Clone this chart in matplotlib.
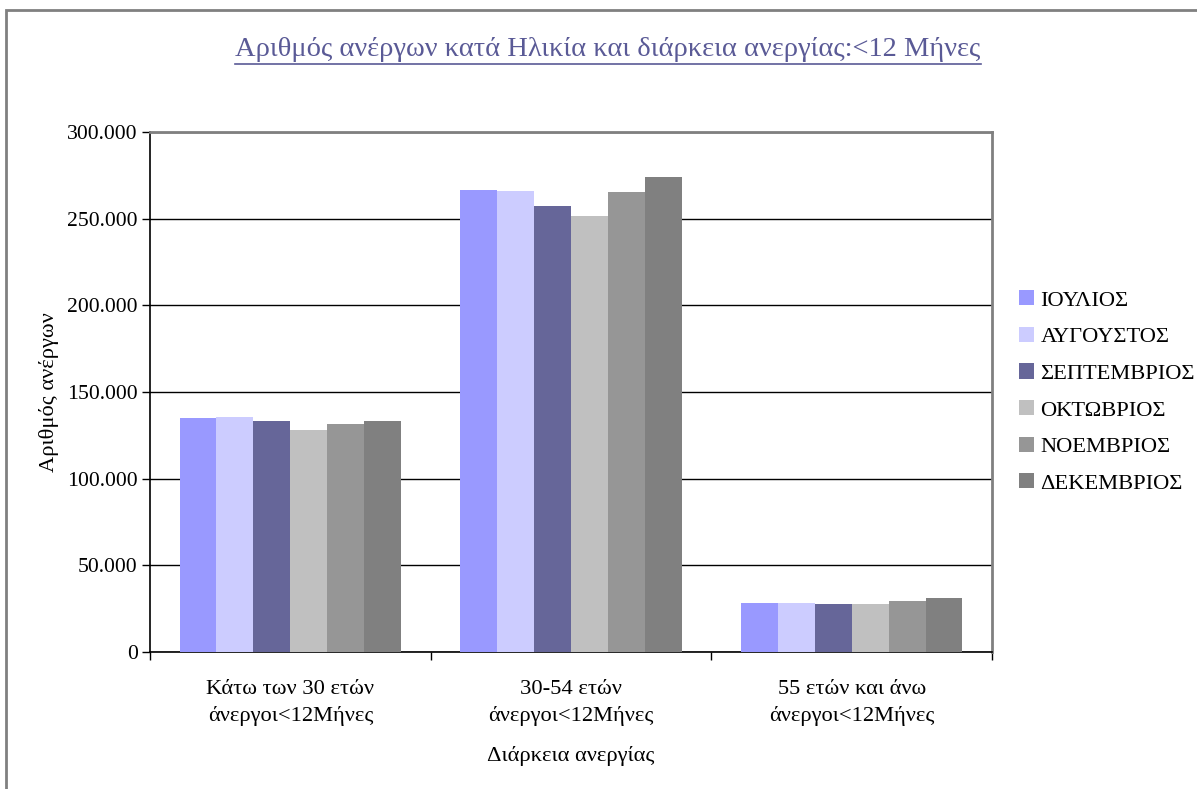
import numpy as np
import matplotlib.pyplot as plt
from matplotlib.ticker import FuncFormatter, FixedLocator
from matplotlib.patches import Rectangle

plt.rcParams['font.family'] = ['Liberation Serif', 'DejaVu Serif']

categories = ["Κάτω των 30 ετών\nάνεργοι<12Μήνες",
              "30-54 ετών\nάνεργοι<12Μήνες",
              "55 ετών και άνω\nάνεργοι<12Μήνες"]
months = ["ΙΟΥΛΙΟΣ", "ΑΥΓΟΥΣΤΟΣ", "ΣΕΠΤΕΜΒΡΙΟΣ", "ΟΚΤΩΒΡΙΟΣ", "ΝΟΕΜΒΡΙΟΣ", "ΔΕΚΕΜΒΡΙΟΣ"]
colors = ["#9999ff", "#ccccff", "#666699", "#c0c0c0", "#969696", "#808080"]

jul = [135200, 266500, 28500]
aug = [135800, 266000, 28500]
sep = [133000, 257300, 27900]
octo = [128300, 251500, 27900]
nov = [131700, 265400, 29600]
dec = [133000, 274000, 31300]
series = [jul, aug, sep, octo, nov, dec]

fs = 16.2

fig = plt.figure(figsize=(11.97, 7.89), dpi=100)
fig.patches.append(Rectangle((6 / 1197, -0.01), 1.1, 1 - 10 / 789 + 0.01, transform=fig.transFigure,
                             fill=False, edgecolor="#808080", linewidth=2))
ax = fig.add_axes([150 / 1197, 1 - 652 / 789, 842 / 1197, 520 / 789])

pos = np.arange(len(categories))
w = 1 / (6 + 1.6)
for i, (name, vals) in enumerate(zip(months, series)):
    ax.bar(pos + (i - 2.5) * w, vals, w, color=colors[i], label=name, zorder=3)

ax.set_xlim(-0.5, 2.5)
ax.set_ylim(0, 300000)
ax.set_yticks(np.arange(0, 300001, 50000))
ax.yaxis.set_major_formatter(FuncFormatter(lambda v, p: "0" if v == 0 else f"{int(v):,}".replace(",", ".")))
ax.yaxis.grid(True, color="black", linewidth=1, zorder=0)

ax.set_xticks(pos)
ax.set_xticklabels(categories, fontsize=fs, linespacing=1.5)
ax.xaxis.set_minor_locator(FixedLocator([-0.5, 0.5, 1.5, 2.5]))
ax.tick_params(axis="x", which="major", length=0, pad=20)
ax.tick_params(axis="x", which="minor", length=6, width=1, direction="out")
ax.tick_params(axis="y", length=6, width=1, direction="out", labelsize=15.6, pad=3)

for s in ["top", "right"]:
    ax.spines[s].set_color("#808080")
    ax.spines[s].set_linewidth(2)
for s in ["left", "bottom"]:
    ax.spines[s].set_color("black")
    ax.spines[s].set_linewidth(1.2)

ax.set_ylabel("Αριθμός ανέργων", fontsize=fs, labelpad=6)
ax.set_xlabel("Διάρκεια ανεργίας", fontsize=fs, labelpad=14)

title = fig.text(608 / 1197, 1 - 50 / 789, "Αριθμός ανέργων κατά Ηλικία και διάρκεια ανεργίας:<12 Μήνες",
                 ha="center", va="center", fontsize=20.5, color="#5a5a96")
fig.canvas.draw()
bb = title.get_window_extent().transformed(fig.transFigure.inverted())
title_line_y = 1 - 64 / 789
fig.add_artist(plt.Line2D([bb.x0, bb.x1], [title_line_y, title_line_y],
                          transform=fig.transFigure, color="#5a5a96", linewidth=1.2))

ax.legend(loc="center left", bbox_to_anchor=(1.008, 0.5), frameon=False, fontsize=fs,
          handlelength=0.65, handleheight=0.65, handletextpad=0.3, labelspacing=0.72)

fig.savefig("out.png", dpi=100)
